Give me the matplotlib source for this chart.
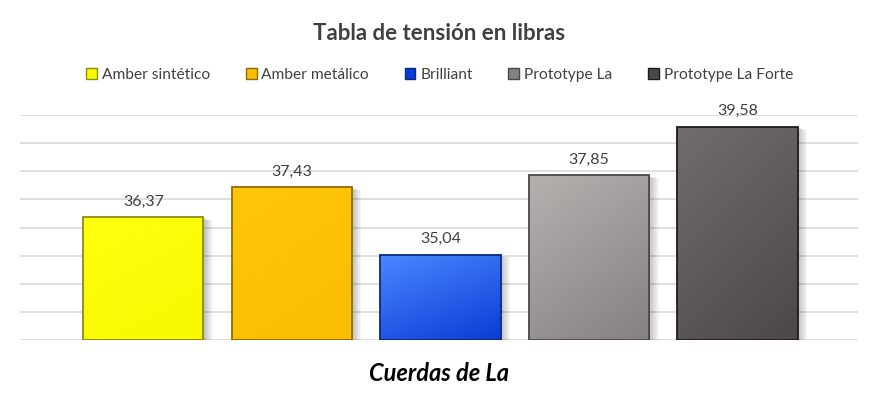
import numpy as np
import matplotlib.pyplot as plt
from matplotlib.patches import Rectangle, Patch
from matplotlib.colors import LinearSegmentedColormap

plt.rcParams['font.family'] = ['Lato', 'DejaVu Sans']

series = ['Amber sintético', 'Amber metálico', 'Brilliant', 'Prototype La', 'Prototype La Forte']
values = [36.37, 37.43, 35.04, 37.85, 39.58]
labels = ['36,37', '37,43', '35,04', '37,85', '39,58']

# (top-left colour, bottom-right colour, edge colour)
grads = [('#ffff10', '#f8f800', '#8c8a10'),
         ('#ffc60a', '#fabd00', '#8f6a00'),
         ('#4a88ff', '#0a3cd6', '#0a2a80'),
         ('#b4b1af', '#858180', '#4a4747'),
         ('#716d6c', '#4d4847', '#1e1c1c')]

fig = plt.figure(figsize=(8.79, 3.98), dpi=100)
ax = fig.add_axes([20/879, 58/398, 838/879, 225/398])
ax.set_yticks(np.arange(32, 41, 1))
ax.yaxis.grid(True, color='#d9d9d9', lw=1.2)
ax.set_axisbelow(True)
for s in ax.spines.values():
    s.set_visible(False)
ax.tick_params(left=False, bottom=False, labelleft=False, labelbottom=False)

w = 0.81
yy, xx = np.mgrid[0:1:100j, 0:1:100j]
g = (xx * 0.35 + yy * 0.65)
for i, (v, lab, (c1, c2, ec)) in enumerate(zip(values, labels, grads)):
    x0 = i - w / 2
    # soft shadow
    for k in range(6):
        d = 0.012 + k * 0.008
        ax.add_patch(Rectangle((x0 + d * 0.6, 32), w + d * 0.6, v - 32 - d * 2,
                               facecolor='black', edgecolor='none', alpha=0.04, zorder=2))
    cmap = LinearSegmentedColormap.from_list('g%d' % i, [c1, c2])
    im = ax.imshow(g, cmap=cmap, extent=(x0, x0 + w, 32, v), origin='upper',
                   aspect='auto', zorder=3, interpolation='bilinear')
    r = Rectangle((x0, 32), w, v - 32, facecolor='none', edgecolor=ec, lw=1.3, zorder=4)
    ax.add_patch(r)
    im.set_clip_path(r)
    ax.text(i, v + 0.3, lab, ha='center', va='bottom', fontsize=11.5, color='#404040', zorder=5)

ax.set_xlim(-0.83, 4.81)
ax.set_ylim(32, 40)

fig.text(0.5, 0.917, 'Tabla de tensión en libras', ha='center', va='center',
         fontsize=16, fontweight='bold', color='#404040')
fig.text(0.5, 0.062, 'Cuerdas de La', ha='center', va='center',
         fontsize=17, fontweight='bold', style='italic', color='black')

handles = [Patch(facecolor=c2, edgecolor=ec, lw=1) for c1, c2, ec in grads]
fig.legend(handles, series, loc='center', bbox_to_anchor=(0.5, 0.812), ncol=5,
           frameon=False, fontsize=11.2, handlelength=0.7, handleheight=0.7,
           handletextpad=0.3, columnspacing=2.3, labelcolor='#404040')

fig.savefig('out.png', dpi=100)
